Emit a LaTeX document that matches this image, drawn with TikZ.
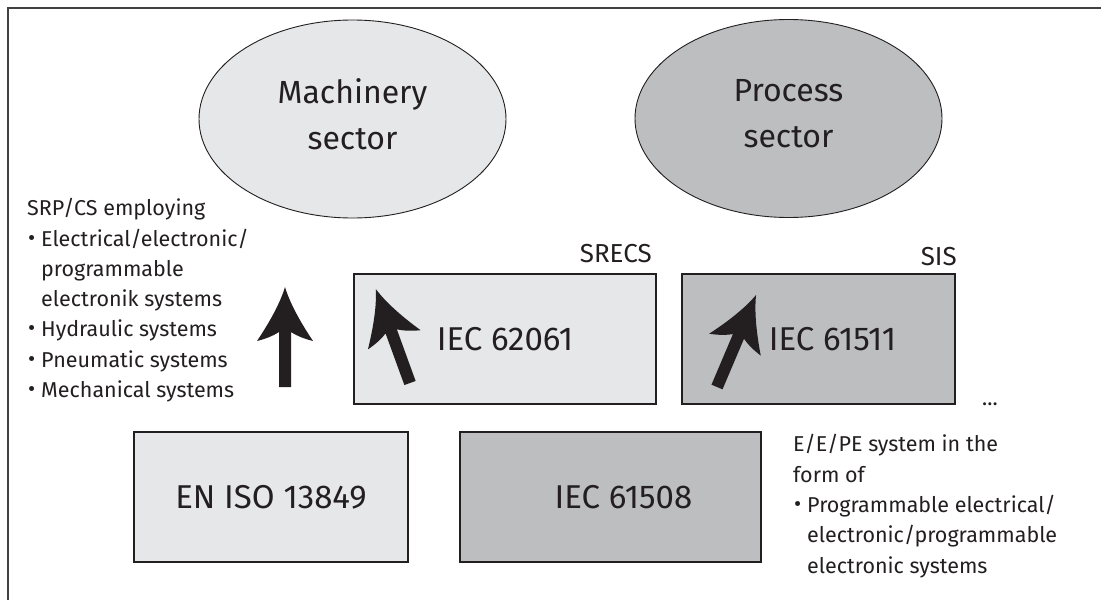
\documentclass[tikz,border=0pt]{standalone}
\usepackage{fontspec}
\setmainfont{Fira Sans}
\usetikzlibrary{shapes.geometric}
\definecolor{lightfill}{HTML}{E6E7E8}
\definecolor{darkfill}{HTML}{BCBEC0}
\definecolor{ink}{HTML}{231F20}
\newcommand{\listbullet}{\hspace*{1pt}\makebox[13pt][l]{\raisebox{1pt}{\fontsize{22}{22}\selectfont •}}}
\newcommand{\listindent}{\hspace*{14pt}}
\newcommand{\liftlabel}{\rule[-10pt]{0pt}{0pt}}
\begin{document}
\begin{tikzpicture}[x=1pt,y=-1pt,
  sector/.style={ellipse, draw=ink, line width=0.9pt, minimum width=307pt,
    minimum height=198pt, inner sep=0pt, align=center,
    font=\fontsize{32}{46}\selectfont, text=ink},
  stdbox/.style={rectangle, draw=ink, line width=1.2pt, inner sep=0pt,
    minimum height=130pt, font=\fontsize{33}{40}\selectfont, text=ink},
  tag/.style={inner sep=0pt, anchor=base east, font=\fontsize{26}{30}\selectfont, text=ink},
  bulletlist/.style={inner sep=0pt, anchor=base west, align=left,
    font=\fontsize{21.5}{30.3}\selectfont, text=ink},
  fatarrow/.pic={
    \fill[ink] (-6pt,0pt) -- (-6pt,55pt)
      .. controls (-12pt,51pt) and (-20pt,48pt) .. (-28pt,46pt)
      .. controls (-20pt,58pt) and (-6pt,80pt) .. (0pt,100pt)
      .. controls (6pt,80pt) and (20pt,58pt) .. (28pt,46pt)
      .. controls (20pt,48pt) and (12pt,51pt) .. (6pt,55pt)
      -- (6pt,0pt) -- cycle;
  }
]
\useasboundingbox (0,0) rectangle (1101,600);
\fill[white] (0,0) rectangle (1101,600);

% outer frame, open to the right and bottom
\draw[draw=ink!85, line width=2pt] (1101,8) -- (8,8) -- (8,600);

% sectors
\node[sector, fill=lightfill] (mach) at (352.5,119) {Machinery\\sector\liftlabel};
\node[sector, fill=darkfill] (proc) at (788.5,118.5) {Process\\sector\liftlabel};

% sector standards
\node[stdbox, fill=lightfill, minimum width=302pt] (b62061) at (505,339) {IEC 62061};
\node[stdbox, fill=darkfill, minimum width=273pt] (b61511) at (818.5,339) {\hspace*{28pt}IEC 61511};

% basic standards
\node[stdbox, fill=lightfill, minimum width=274pt] (b13849) at (271,497) {EN ISO 13849};
\node[stdbox, fill=darkfill, minimum width=301pt] (b61508) at (610.5,497) {\hspace*{26pt}IEC 61508};

% labels above the boxes
\node[tag] (srecs) at (652,262) {SRECS};
\node[tag] (sis) at (957,265) {SIS};
\node[bulletlist] (dots) at (982,405) {...};

% arrows
\pic at (285,387) {fatarrow};
\pic[rotate=20] at (410,383) {fatarrow};
\pic[rotate=-23] at (717,387) {fatarrow};

% descriptive lists (anchored on the baseline of their last line)
\node[bulletlist] (leftlist) at (27,397.5) {SRP/CS employing\\
  \listbullet Electrical/electronic/\\
  \listindent programmable\\
  \listindent electronik systems\\
  \listbullet Hydraulic systems\\
  \listbullet Pneumatic systems\\
  \listbullet Mechanical systems};

\node[bulletlist] (rightlist) at (793,573) {E/E/PE system in the\\
  form of\\
  \listbullet Programmable electrical/\\
  \listindent electronic/programmable\\
  \listindent electronic systems};
\end{tikzpicture}
\end{document}
